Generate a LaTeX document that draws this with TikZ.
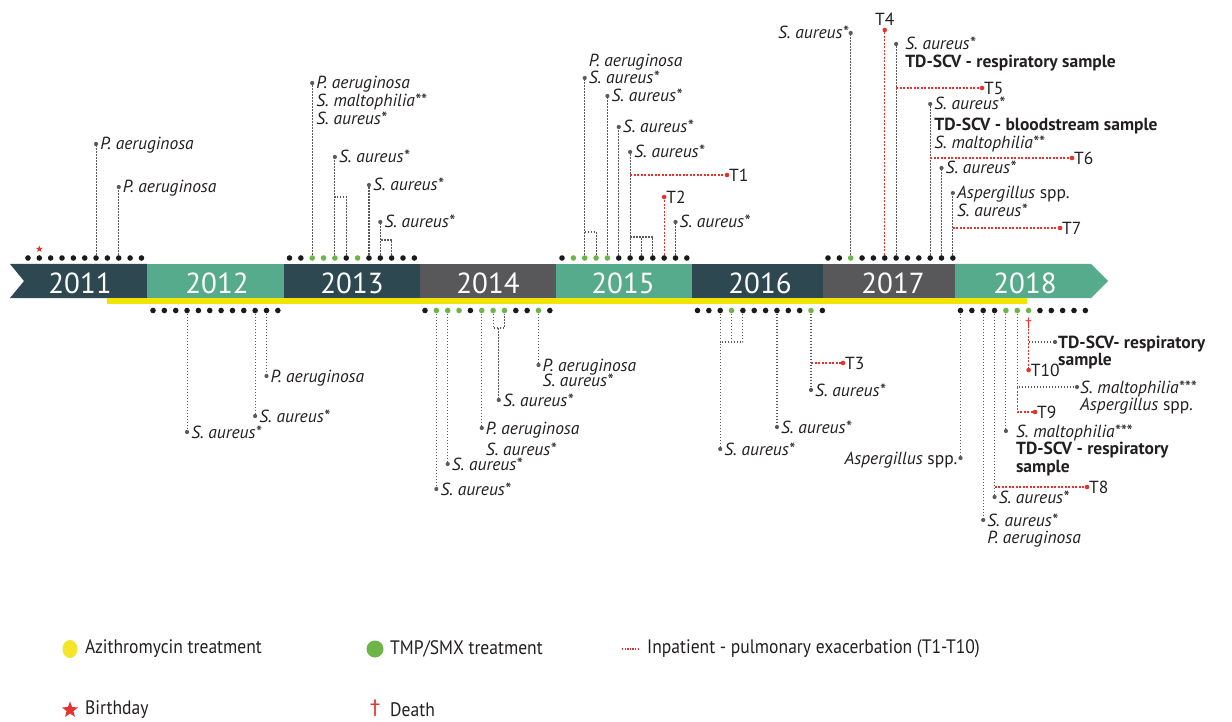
\documentclass[tikz,border=0pt]{standalone}
\usepackage{fontspec}
\setmainfont{PT Sans}
\newfontfamily\legendfamily{PT Sans}[FakeStretch=0.9]
\newfontfamily\symfam{DejaVu Sans}
\usetikzlibrary{shapes.geometric}
\definecolor{bdark}{HTML}{2D4850}
\definecolor{bteal}{HTML}{56AB8D}
\definecolor{bgrey}{HTML}{58585A}
\definecolor{byellow}{HTML}{F0E400}
\definecolor{dotk}{HTML}{1A1A1A}
\definecolor{dotg}{HTML}{6DB546}
\definecolor{tred}{HTML}{E5322D}
\definecolor{leadc}{HTML}{5A5A5A}
\definecolor{txt}{HTML}{231F20}
\definecolor{legyellow}{HTML}{F2E52A}
\newcommand\labfont{\fontsize{17.5}{17.5}\selectfont}
\newcommand\yearfont{\fontsize{29}{32}\selectfont}
\newcommand\legfont{\legendfamily\fontsize{19.5}{22}\selectfont}
\newcommand\dagfont{\symfam\fontsize{13}{15}\selectfont}
\newcommand\ml[1]{\begin{tabular}[t]{@{}l@{}}#1\end{tabular}}
\newcommand\mlb[1]{\begin{tabular}[b]{@{}l@{}}#1\end{tabular}}
% lead from dot #1 to y=#2, end named #3, label #4 to the right
\newcommand\LL[4]{%
  \coordinate (#3) at (#1 |- 0,#2);
  \draw[lead] (#1) -- (#3);
  \node[enddot] (#3d) at (#3) {};
  \node[lab] (#3l) at ([xshift=4pt,yshift=-6pt]#3) {\ml{#4}};}
\begin{document}
\begin{tikzpicture}[x=1pt,y=-1pt,
  dot/.style={circle,inner sep=0pt,minimum size=5.6pt},
  lead/.style={draw=leadc,line width=1.1pt,dash pattern=on 1.5pt off 1.5pt},
  redlead/.style={draw=tred,line width=1.1pt,dash pattern=on 2pt off 1.5pt},
  enddot/.style={circle,fill=leadc,inner sep=0pt,minimum size=4.2pt},
  reddot/.style={circle,fill=tred,inner sep=0pt,minimum size=4.6pt},
  lab/.style={inner sep=0pt,font=\labfont,text=txt,anchor=base west},
  tlab/.style={inner sep=0pt,font=\labfont,text=txt,anchor=west},
  yearlab/.style={font=\yearfont,text=white,inner sep=0pt},
  leg/.style={font=\legfont,text=txt,anchor=west,inner sep=0pt},
  redstar/.style={star,star points=5,star point ratio=2.4,fill=tred,inner sep=0pt}]
\useasboundingbox (0,0) rectangle (1232,722);
% ---- band ----
\fill[bdark] (10,264) -- (147,264) -- (147,298) -- (10,298) -- (24,281) -- cycle;
\fill[bteal] (147,264) rectangle (284,298);
\fill[bdark] (284,264) rectangle (420,298);
\fill[bgrey] (420,264) rectangle (556,298);
\fill[bteal] (556,264) rectangle (692,298);
\fill[bdark] (692,264) rectangle (823,298);
\fill[bgrey] (823,264) rectangle (955,298);
\fill[bteal] (955,264) -- (1091,264) -- (1108,281) -- (1091,298) -- (955,298) -- cycle;
\fill[byellow] (107,298) rectangle (1027,303.5);
\node[yearlab] (y2011) at (80,283) {2011};
\node[yearlab] (y2012) at (217,283) {2012};
\node[yearlab] (y2013) at (352,283) {2013};
\node[yearlab] (y2014) at (488,283) {2014};
\node[yearlab] (y2015) at (623,283) {2015};
\node[yearlab] (y2016) at (760,283) {2016};
\node[yearlab] (y2017) at (893,283) {2017};
\node[yearlab] (y2018) at (1025,283) {2018};
% ---- month dots ----
\foreach \m in {2,...,12} \node[dot,fill=dotk] (t11-\m) at ({16.6+(\m-1)*11.35},258) {};
\foreach \m/\c in {1/k,2/k,3/g,4/g,5/g,6/k,7/g,8/k,9/k,10/k,11/k,12/k}
  \node[dot,fill=dot\c] (t13-\m) at ({289.5+(\m-1)*11.35},258) {};
\foreach \m/\c in {1/k,2/g,3/g,4/g,5/g,6/k,7/k,8/k,9/k,10/k,11/k,12/k}
  \node[dot,fill=dot\c] (t15-\m) at ({562+(\m-1)*11.35},258) {};
\foreach \m/\c in {1/k,2/k,3/g,4/k,5/k,6/k,7/k,8/k,9/k,10/k,11/k,12/k}
  \node[dot,fill=dot\c] (t17-\m) at ({828+(\m-1)*11.35},258) {};
\foreach \m in {1,...,12} \node[dot,fill=dotk] (b12-\m) at ({153+(\m-1)*11.35},310.5) {};
\foreach \m/\c in {1/k,2/g,3/g,4/g,5/k,6/g,7/g,8/g,9/k,10/k,11/g,12/k}
  \node[dot,fill=dot\c] (b14-\m) at ({425+(\m-1)*11.35},310.5) {};
\foreach \m/\c in {1/k,2/k,3/k,4/g,5/k,6/k,7/k,8/k,9/k,10/k,11/g,12/k}
  \node[dot,fill=dot\c] (b16-\m) at ({697.5+(\m-1)*11.35},310.5) {};
\foreach \m/\c in {1/k,2/k,3/k,4/k,5/g,6/g,7/g,8/k,9/k,10/k,11/k,12/k}
  \node[dot,fill=dot\c] (b18-\m) at ({960.5+(\m-1)*11.35},310.5) {};
% ---- 2011 ----
\LL{t11-8}{144}{a11}{\textit{P. aeruginosa}}
\LL{t11-10}{187}{b11}{\textit{P. aeruginosa}}
\node[redstar,minimum size=7pt] (bday) at (t11-3 |- 0,249) {};
% ---- 2013 ----
\LL{t13-3}{83}{a13}{\textit{P. aeruginosa}\\\textit{S. maltophilia**}\\\textit{S. aureus*}}
\LL{t13-5}{157}{b13}{\textit{S. aureus*}}
\draw[lead] (t13-6) |- (t13-5 |- 0,197);
\LL{t13-8}{185}{c13}{\textit{S. aureus*}}
\LL{t13-9}{222}{d13}{\textit{S. aureus*}}
\draw[lead] (t13-10) |- (t13-9 |- 0,240);
% ---- 2015 ----
\coordinate (a15) at (t15-3 |- 0,78);
\draw[lead] (t15-3) -- (a15);
\node[enddot] (a15d) at (a15) {};
\node[lab] (a15l) at ([xshift=4pt,yshift=-6pt]a15) {\mlb{\textit{P. aeruginosa}\\\textit{S. aureus*}}};
\draw[lead] (t15-4) |- (t15-3 |- 0,232);
\LL{t15-5}{96}{b15}{\textit{S. aureus*}}
\LL{t15-6}{127}{c15}{\textit{S. aureus*}}
\LL{t15-7}{152}{d15}{\textit{S. aureus*}}
\draw[lead] (t15-9) |- (t15-7 |- 0,237);
\draw[lead] (t15-8) -- (t15-8 |- 0,237);
\coordinate (T1s) at (t15-7 |- 0,175);
\coordinate (T1e) at (727,175);
\draw[redlead] (T1s) -- (T1e);
\node[reddot] (T1d) at (T1e) {};
\node[tlab] (T1) at ([xshift=2pt]T1e) {T1};
\coordinate (T2e) at (t15-10 |- 0,197);
\draw[redlead] (t15-10) -- (T2e);
\node[reddot] (T2d) at (T2e) {};
\node[tlab] (T2) at ([xshift=2pt]T2e) {T2};
\LL{t15-11}{222}{e15}{\textit{S. aureus*}}
% ---- 2017 ----
\coordinate (a17) at (t17-3 |- 0,33);
\draw[lead] (t17-3) -- (a17);
\node[enddot] (a17d) at (a17) {};
\node[lab,anchor=base east] (a17l) at ([xshift=-2pt,yshift=-6pt]a17) {\textit{S. aureus*}};
\coordinate (T4e) at (t17-6 |- 0,30);
\draw[redlead] (t17-6) -- (T4e);
\node[reddot] (T4d) at (T4e) {};
\node[tlab,anchor=south] (T4) at ([yshift=4pt]T4e) {T4};
\coordinate (b17) at (t17-7 |- 0,44);
\draw[lead] (t17-7) -- (b17);
\node[enddot] (b17d) at (b17) {};
\node[lab] (b17l) at ([xshift=9pt,yshift=-6pt]b17) {\ml{\textit{S. aureus*}\\\textbf{TD-SCV - respiratory sample}}};
\coordinate (T5s) at (t17-7 |- 0,88);
\coordinate (T5e) at (982,88);
\draw[redlead] (T5s) -- (T5e);
\node[reddot] (T5d) at (T5e) {};
\node[tlab] (T5) at ([xshift=2pt]T5e) {T5};
\LL{t17-10}{104}{c17}{\textit{S. aureus*}\\[3pt]\textbf{TD-SCV - bloodstream sample}\\\textit{S. maltophilia**}}
\coordinate (T6s) at (t17-10 |- 0,158);
\coordinate (T6e) at (1072,158);
\draw[redlead] (T6s) -- (T6e);
\node[reddot] (T6d) at (T6e) {};
\node[tlab] (T6) at ([xshift=2pt]T6e) {T6};
\LL{t17-11}{168}{d17}{\textit{S. aureus*}}
\LL{t17-12}{193}{e17}{\textit{Aspergillus} spp.\\\textit{S. aureus*}}
\coordinate (T7s) at (t17-12 |- 0,228);
\coordinate (T7e) at (1060,228);
\draw[redlead] (T7s) -- (T7e);
\node[reddot] (T7d) at (T7e) {};
\node[tlab] (T7) at ([xshift=2pt]T7e) {T7};
% ---- 2012 ----
\LL{b12-4}{432}{a12}{\textit{S. aureus*}}
\LL{b12-10}{416}{b12}{\textit{S. aureus*}}
\LL{b12-11}{376}{c12}{\textit{P. aeruginosa}}
% ---- 2014 ----
\LL{b14-2}{489}{a14}{\textit{S. aureus*}}
\LL{b14-3}{464}{b14}{\textit{S. aureus*}}
\LL{b14-6}{428}{c14}{\textit{P. aeruginosa}\\[4pt]\textit{S. aureus*}}
\draw[lead] (b14-7) |- (b14-8 |- 0,328) -- (b14-8);
\coordinate (m14) at (498.8,328);
\LL{m14}{400}{d14}{\textit{S. aureus*}}
\LL{b14-11}{365}{e14}{\textit{P. aeruginosa}\\[-2pt]\textit{S. aureus*}}
% ---- 2016 ----
\LL{b16-3}{449}{a16}{\textit{S. aureus*}}
\draw[lead] (b16-5) |- (b16-3 |- 0,342);
\draw[lead] (b16-4) -- (b16-4 |- 0,342);
\LL{b16-8}{427}{b16}{\textit{S. aureus*}}
\LL{b16-11}{390}{c16}{\textit{S. aureus*}}
\coordinate (T3s) at (b16-11 |- 0,363);
\coordinate (T3e) at (843,363);
\draw[redlead] (T3s) -- (T3e);
\node[reddot] (T3d) at (T3e) {};
\node[tlab] (T3) at ([xshift=2pt]T3e) {T3};
% ---- 2018 ----
\coordinate (a18) at (b18-1 |- 0,458);
\draw[lead] (b18-1) -- (a18);
\node[enddot] (a18d) at (a18) {};
\node[lab,anchor=base east] (a18l) at ([xshift=-3pt,yshift=-6pt]a18) {\textit{Aspergillus} spp.};
\LL{b18-3}{520}{b18}{\textit{S. aureus*}\\\textit{P. aeruginosa}}
\LL{b18-4}{497}{c18}{\textit{S. aureus*}}
\coordinate (T8s) at (b18-4 |- 0,487);
\coordinate (T8e) at (1087,487);
\draw[redlead] (T8s) -- (T8e);
\node[reddot] (T8d) at (T8e) {};
\node[tlab] (T8) at ([xshift=2pt]T8e) {T8};
\coordinate (d18) at (b18-5 |- 0,431);
\draw[lead] (b18-5) -- (d18);
\node[enddot] (d18d) at (d18) {};
\node[lab] (d18l) at ([xshift=10pt,yshift=-6pt]d18) {\ml{\textit{S. maltophilia***}\\\textbf{TD-SCV - respiratory}\\\textbf{sample}}};
\coordinate (e18j) at (b18-6 |- 0,387);
\coordinate (e18) at (1077,387);
\draw[lead] (b18-6) -- (e18j) -- (e18);
\node[enddot] (e18d) at (e18) {};
\node[lab] (e18l) at ([xshift=3pt,yshift=-6pt]e18) {\ml{\textit{S. maltophilia***}\\\textit{Aspergillus} spp.}};
\coordinate (T9c) at (b18-6 |- 0,412);
\coordinate (T9e) at (1035,412);
\draw[redlead] (e18j) -- (T9c) -- (T9e);
\node[reddot] (T9d) at (T9e) {};
\node[tlab] (T9) at ([xshift=2pt]T9e) {T9};
\node[text=tred,font=\dagfont,inner sep=0pt] (death) at (b18-7 |- 0,323) {†};
\coordinate (T10e) at (b18-7 |- 0,370);
\draw[redlead] (death.south) -- (T10e);
\node[reddot] (T10d) at (T10e) {};
\node[tlab] (T10) at ([xshift=2pt]T10e) {T10};
\coordinate (f18j) at (b18-7 |- 0,342);
\coordinate (f18) at (1055,342);
\draw[lead] (f18j) -- (f18);
\node[enddot] (f18d) at (f18) {};
\node[lab] (f18l) at ([xshift=3pt,yshift=-6pt]f18) {\ml{\textbf{TD-SCV- respiratory}\\\textbf{sample}}};
% ---- legend ----
\node[ellipse,fill=legyellow,minimum width=15pt,minimum height=18pt,inner sep=0pt] (lgy) at (70,649) {};
\node[leg] (lgyt) at (85,649) {Azithromycin treatment};
\node[circle,fill=dotg,minimum size=17pt,inner sep=0pt] (lgg) at (375,649) {};
\node[leg] (lggt) at (390,649) {TMP/SMX treatment};
\coordinate (lgr1) at (622,649);
\coordinate (lgr2) at (640,649);
\draw[draw=tred,line width=1.1pt,dash pattern=on 1.3pt off 1.3pt] (lgr1) -- (lgr2);
\node[leg] (lgrt) at (647,649) {Inpatient - pulmonary exacerbation (T1-T10)};
\node[redstar,minimum size=17pt] (lgs) at (70,710) {};
\node[leg] (lgst) at (85,710) {Birthday};
\node[text=tred,font=\symfam\fontsize{20}{22}\selectfont,inner sep=0pt] (lgd) at (375,708) {†};
\node[leg] (lgdt) at (390,710) {Death};
\end{tikzpicture}
\end{document}
